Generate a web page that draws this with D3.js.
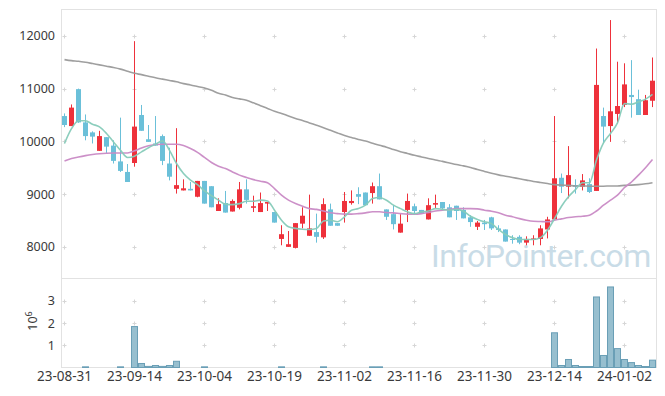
<!DOCTYPE html>
<html><head><meta charset="utf-8">
<script src="https://cdn.jsdelivr.net/npm/d3@7/dist/d3.min.js"></script>
<style>body{margin:0;background:#fff}svg{display:block}text{font-family:"Noto Sans",sans-serif}</style>
</head><body>
<script>
const dates = ["2023-08-31","2023-09-01","2023-09-04","2023-09-05","2023-09-06","2023-09-07","2023-09-08","2023-09-11","2023-09-12","2023-09-13",
"2023-09-14","2023-09-15","2023-09-18","2023-09-19","2023-09-20","2023-09-21","2023-09-22","2023-09-25","2023-09-26","2023-09-27",
"2023-10-04","2023-10-05","2023-10-06","2023-10-10","2023-10-11","2023-10-12","2023-10-13","2023-10-16","2023-10-17","2023-10-18",
"2023-10-19","2023-10-20","2023-10-23","2023-10-24","2023-10-25","2023-10-26","2023-10-27","2023-10-30","2023-10-31","2023-11-01",
"2023-11-02","2023-11-03","2023-11-06","2023-11-07","2023-11-08","2023-11-09","2023-11-10","2023-11-13","2023-11-14","2023-11-15",
"2023-11-16","2023-11-17","2023-11-20","2023-11-21","2023-11-22","2023-11-23","2023-11-24","2023-11-27","2023-11-28","2023-11-29",
"2023-11-30","2023-12-01","2023-12-04","2023-12-05","2023-12-06","2023-12-07","2023-12-08","2023-12-11","2023-12-12","2023-12-13",
"2023-12-14","2023-12-15","2023-12-18","2023-12-19","2023-12-20","2023-12-21","2023-12-22","2023-12-26","2023-12-27","2023-12-28",
"2024-01-02","2024-01-03","2024-01-04","2024-01-05","2024-01-08"];

const open  = [10480,10290,10990,10360,10170,9820,10080,9920,9620,9420, 9590,10500,10040,9960,10100,9580,9100,9070,9100,8950,
 9250,9150,8680,8830,8670,8740,9090,8740,8660,8820, 8660,8150,8000,7980,8440,8210,8280,8180,8710,8450,
 8660,8830,9000,9030,9020,9150,8710,8620,8270,8700, 8770,8700,8520,8800,8850,8750,8780,8700,8560,8380,
 8460,8560,8350,8330,8150,8190,8080,8130,8150,8330, 8520,9310,9140,9170,9140,9190,9060,10480,10290,10520,
 10690,10880,10800,10500,10770];
const high  = [10530,10700,11000,10510,10190,10200,10080,10020,10450,9570, 11900,10690,10310,10480,10130,9880,10250,9280,9230,9250,
 9250,9150,8920,9060,8900,9230,9280,8970,9030,8850, 8660,8410,8300,8450,8750,8990,8630,8920,8820,8450,
 9040,9070,9130,9030,9220,9390,8710,8790,8620,9010, 8820,8700,8920,8990,8850,8810,8780,8750,8600,8490,
 8510,8570,8410,8330,8220,8220,8200,8220,8410,8570, 10480,9390,9910,9280,9380,9300,11760,10640,12300,11510,
 11480,11540,10980,10880,11590];
const low   = [10270,10290,10350,10020,9960,9820,9780,9580,9420,9230, 9520,10200,9990,9920,9550,9260,9010,9070,9070,8940,
 8820,8750,8680,8650,8670,8710,8820,8660,8660,8680, 8460,8030,8000,7970,8350,8210,8080,8150,8400,8400,
 8460,8800,8810,8790,8820,8900,8510,8330,8270,8470, 8620,8630,8520,8730,8710,8560,8510,8540,8380,8320,
 8320,8320,8280,8100,8060,8050,8030,8030,8030,8160, 8520,9020,8920,9010,9070,9020,9060,9960,9990,10340,
 10650,10450,10500,10500,10650];
const close = [10310,10640,10360,10100,10090,10100,9900,9630,9440,9230, 10280,10200,9990,9920,9630,9330,9170,9110,9070,9250,
 8820,8750,8810,8650,8870,9090,8890,8770,8830,8850, 8460,8240,8050,8450,8590,8350,8190,8810,8400,8400,
 8870,8870,8950,8790,9150,8900,8570,8430,8440,8870, 8680,8630,8790,8830,8730,8560,8680,8540,8470,8460,
 8430,8350,8320,8100,8130,8080,8150,8160,8350,8520, 9300,9140,9360,9140,9260,9040,11070,10280,10570,10670,
 11080,10840,10500,10780,11150];

const ma5 = [9960,10240,10390,10390,10325,10275,10150,9990,9830,9695, 9720,9800,9880,9945,10010,9830,9580,9390,9265,9180,
 9060,8970,8885,8810,8800,8820,8865,8865,8885,8870, 8695,8505,8380,8350,8335,8330,8350,8490,8505,8475,
 8570,8695,8725,8790,8915,8935,8885,8790,8725,8665, 8630,8665,8680,8725,8710,8695,8710,8675,8580,8520,
 8475,8440,8330,8235,8175,8140,8140,8140,8175,8315, 8535,8770,8950,9085,9215,9215,9645,9970,10150,10350,
 10715,10705,10750,10800,10890];
const ma20 = [9630,9675,9705,9730,9750,9765,9775,9780,9780,9780, 9820,9875,9915,9940,9945,9945,9945,9920,9865,9790,
 9695,9600,9530,9485,9420,9360,9315,9275,9245,9215, 9105,8980,8885,8820,8770,8725,8710,8680,8645,8630,
 8620,8620,8630,8645,8665,8665,8650,8645,8630,8620, 8620,8630,8650,8680,8695,8710,8725,8725,8725,8720,
 8695,8675,8645,8600,8570,8535,8505,8485,8480,8475, 8505,8530,8555,8570,8580,8600,8680,8790,8885,8980,
 9125,9230,9360,9500,9655];
const ma60 = [11550,11530,11520,11500,11475,11450,11425,11400,11370,11330, 11290,11265,11235,11205,11180,11155,11130,11095,11070,11040,
 11010,10970,10910,10880,10830,10805,10780,10730,10675,10625, 10570,10530,10480,10435,10395,10350,10305,10260,10210,10160,
 10110,10075,10035,10005,9965,9925,9890,9845,9805,9770, 9735,9705,9675,9645,9620,9590,9560,9535,9505,9465,
 9430,9395,9365,9340,9315,9290,9265,9240,9220,9200, 9180,9170,9165,9155,9155,9150,9150,9150,9155,9155,
 9165,9170,9180,9195,9215];

// volume in millions of shares
const volume = [0.01,0.01,0.01,0.03,0.01,0.01,0.01,0.01,0.03,0.01, 1.84,0.18,0.05,0.09,0.05,0.09,0.28,0.01,0.01,0.01,
 0.03,0.01,0.01,0.01,0.01,0.01,0.01,0.01,0.01,0.01, 0.01,0.03,0.01,0.01,0.01,0.01,0.01,0.03,0.01,0.01,
 0.01,0.01,0.01,0.01,0.03,0.03,0.01,0.01,0.01,0.01, 0.01,0.01,0.01,0.01,0.01,0.01,0.01,0.01,0.01,0.01,
 0.01,0.01,0.01,0.01,0.01,0.01,0.01,0.01,0.01,0.01, 1.56,0.09,0.36,0.09,0.045,0.045,3.17,0.54,3.62,0.85,
 0.36,0.22,0.09,0.045,0.33];

const priceTicks = [8000,9000,10000,11000,12000];
const volTicks = [1,2,3];
const xTickDates = ["2023-08-31","2023-09-14","2023-10-04","2023-10-19","2023-11-02","2023-11-16","2023-11-30","2023-12-14","2024-01-02"];

const W = 665, H = 396;
const svg = d3.select("body").append("svg").attr("width", W).attr("height", H);

const x = d3.scaleBand().domain(dates).range([61, 656]);
const cx = d => x(d) + x.bandwidth() / 2;
const y = d3.scaleLinear().domain([7400, 12500]).range([278.5, 9.5]);
const yv = d3.scaleLinear().domain([0, 4]).range([367.5, 278.5]);

const RED = "#ee313b", BLUE = "#6bc0d9", GRID = "#d6d6d6", BORDER = "#e2e2e2";

// panel borders
svg.append("rect").attr("x", 61.5).attr("y", 9.5).attr("width", 595).attr("height", 269)
  .attr("fill", "none").attr("stroke", BORDER);
svg.append("rect").attr("x", 61.5).attr("y", 278.5).attr("width", 595).attr("height", 89)
  .attr("fill", "none").attr("stroke", BORDER);

// grid crosses
const crosses = [];
xTickDates.forEach(d => {
  priceTicks.forEach(v => crosses.push([cx(d), Math.round(y(v)) + 0.5]));
  volTicks.forEach(v => crosses.push([cx(d), Math.round(yv(v)) + 0.5]));
});
svg.append("path")
  .attr("d", crosses.map(([a, b]) => `M${a - 2},${b}H${a + 2}M${a},${b - 2}V${b + 2}`).join(""))
  .attr("stroke", GRID).attr("fill", "none");

// watermark
svg.append("text").attr("x", 431).attr("y", 267).text("InfoPointer.com")
  .attr("font-size", 32).attr("fill", "#c9dce7").attr("letter-spacing", -0.5)
  .style("font-family", "Roboto,sans-serif");

// candles
const cg = svg.append("g");
dates.forEach((d, i) => {
  const up = close[i] >= open[i];
  const col = up ? RED : BLUE;
  const xc = cx(d);
  cg.append("line").attr("x1", xc).attr("x2", xc).attr("y1", y(high[i])).attr("y2", y(low[i]))
    .attr("stroke", col).attr("stroke-width", 1);
  const top = y(Math.max(open[i], close[i])), bot = y(Math.min(open[i], close[i]));
  cg.append("rect").attr("x", xc - 2.5).attr("width", 5).attr("y", top)
    .attr("height", Math.max(1, bot - top)).attr("fill", col);
});

// moving averages
const line = d3.line().x((v, i) => cx(dates[i])).y(v => y(v)).curve(d3.curveMonotoneX);
[[ma60, "#9a9a9a"], [ma20, "#c98ac5"], [ma5, "#86cbb9"]].forEach(([arr, col]) => {
  svg.append("path").attr("d", line(arr)).attr("fill", "none").attr("stroke", col)
    .attr("stroke-width", 1.6).attr("opacity", 0.95);
});

// volume bars
const vg = svg.append("g");
dates.forEach((d, i) => {
  const h = yv(0) - yv(volume[i]);
  if (h < 0.5) return;
  vg.append("rect").attr("x", x(d) + 0.5).attr("width", x.bandwidth() - 1)
    .attr("y", yv(volume[i])).attr("height", h)
    .attr("fill", "#97bfcf").attr("stroke", "#6a9fb6").attr("stroke-width", 1);
});

// axes
const ax1 = svg.append("g").attr("transform", "translate(61,0)")
  .call(d3.axisLeft(y).tickValues(priceTicks).tickFormat(d3.format("d")).tickSize(0).tickPadding(6));
const ax2 = svg.append("g").attr("transform", "translate(61,0)")
  .call(d3.axisLeft(yv).tickValues(volTicks).tickFormat(d3.format("d")).tickSize(0).tickPadding(6));
const ax3 = svg.append("g").attr("transform", "translate(0,367.5)")
  .call(d3.axisBottom(x).tickValues(xTickDates).tickFormat(d => d.slice(2)).tickSize(0).tickPadding(4));
[ax1, ax2, ax3].forEach(a => {
  a.select(".domain").remove();
  a.selectAll("text").attr("fill", "#3a3a3a").style("font-family", "'Noto Sans',sans-serif");
});
ax1.selectAll("text").attr("font-size", 12.5);
ax2.selectAll("text").attr("font-size", 12.5);
ax3.selectAll("text").attr("font-size", 13.5);

// 10^6 unit label
const ul = svg.append("text").attr("transform", "translate(37,321) rotate(-90)")
  .attr("text-anchor", "middle").attr("font-size", 12.5).attr("fill", "#3a3a3a");
ul.append("tspan").text("10");
ul.append("tspan").text("6").attr("font-size", 9).attr("dy", -5);
</script>
</body></html>
